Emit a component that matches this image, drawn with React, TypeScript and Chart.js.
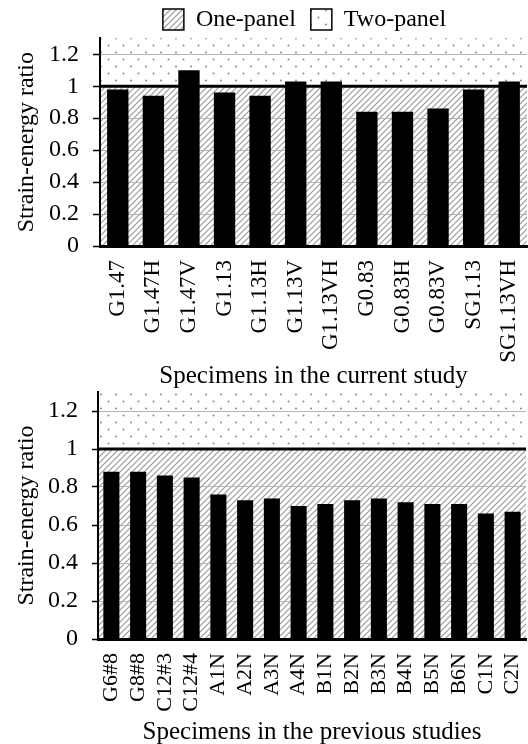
import { useEffect, useRef } from "react";
import { Chart, registerables } from "chart.js";

Chart.register(...registerables);

const currentSpecimens = ["G1.47", "G1.47H", "G1.47V", "G1.13", "G1.13H", "G1.13V", "G1.13VH", "G0.83", "G0.83H", "G0.83V", "SG1.13", "SG1.13VH"];
const currentRatios = [0.98, 0.94, 1.1, 0.96, 0.94, 1.03, 1.03, 0.84, 0.84, 0.86, 0.98, 1.03];
const previousSpecimens = ["G6#8", "G8#8", "C12#3", "C12#4", "A1N", "A2N", "A3N", "A4N", "B1N", "B2N", "B3N", "B4N", "B5N", "B6N", "C1N", "C2N"];
const previousRatios = [0.88, 0.88, 0.86, 0.85, 0.76, 0.73, 0.74, 0.7, 0.71, 0.73, 0.74, 0.72, 0.71, 0.71, 0.66, 0.67];
const yTickValues = [0, 0.2, 0.4, 0.6, 0.8, 1, 1.2];
const yMax = 1.3;
const panelBoundary = 1;
const legendNames = ["One-panel", "Two-panel"];
const yTitle = "Strain-energy ratio";
const currentTitle = "Specimens in the current study";
const previousTitle = "Specimens in the previous studies";

const FONT = "'Liberation Serif', 'Times New Roman', serif";

function makePatterns() {
  const ctx0 = document.createElement("canvas").getContext("2d") as CanvasRenderingContext2D;
  const h = document.createElement("canvas");
  h.width = 6;
  h.height = 6;
  const hc = h.getContext("2d") as CanvasRenderingContext2D;
  hc.fillStyle = "#fff";
  hc.fillRect(0, 0, 6, 6);
  hc.strokeStyle = "#9a9a9a";
  hc.lineWidth = 1.2;
  hc.beginPath();
  hc.moveTo(-1, 7);
  hc.lineTo(7, -1);
  hc.moveTo(-1, 1);
  hc.lineTo(1, -1);
  hc.moveTo(5, 7);
  hc.lineTo(7, 5);
  hc.stroke();

  const d = document.createElement("canvas");
  d.width = 15;
  d.height = 14;
  const dc = d.getContext("2d") as CanvasRenderingContext2D;
  dc.fillStyle = "#fff";
  dc.fillRect(0, 0, 15, 14);
  dc.fillStyle = "#8a8a8a";
  dc.beginPath();
  dc.arc(3.5, 3.5, 1, 0, Math.PI * 2);
  dc.arc(11, 10.5, 1, 0, Math.PI * 2);
  dc.fill();

  return {
    hatch: ctx0.createPattern(h, "repeat") as CanvasPattern,
    dots: ctx0.createPattern(d, "repeat") as CanvasPattern,
  };
}

type Cfg = {
  labels: string[];
  values: number[];
  xTitle: string;
  legend: boolean;
  pad: { top: number; right: number };
  yWidth: number;
  xHeight: number;
  xTitlePad: number;
  xTickSize: number;
  tickLen: number;
};

function buildChart(canvas: HTMLCanvasElement, cfg: Cfg, patterns: { hatch: CanvasPattern; dots: CanvasPattern }) {
  const zones = {
    id: "zones",
    afterLayout(chart: any) {
      if (chart.legend && cfg.legend) {
        chart.legend.left -= 9;
        chart.legend.right -= 9;
      }
    },
    beforeDraw(chart: any) {
      const { ctx, chartArea: a, scales } = chart;
      const yb = scales.y.getPixelForValue(panelBoundary);
      ctx.save();
      ctx.fillStyle = patterns.dots;
      ctx.fillRect(a.left, a.top, a.right - a.left, yb - a.top);
      ctx.fillStyle = patterns.hatch;
      ctx.fillRect(a.left, yb, a.right - a.left, a.bottom - yb);
      ctx.restore();
    },
    afterDatasetsDraw(chart: any) {
      const { ctx, chartArea: a, scales } = chart;
      const yb = scales.y.getPixelForValue(panelBoundary);
      ctx.save();
      ctx.strokeStyle = "#000";
      ctx.lineWidth = 3;
      ctx.beginPath();
      ctx.moveTo(a.left, yb);
      ctx.lineTo(a.right, yb);
      ctx.stroke();
      ctx.restore();
    },
  };

  return new Chart(canvas, {
    type: "bar",
    data: {
      labels: cfg.labels,
      datasets: [
        {
          data: cfg.values,
          backgroundColor: "#000",
          borderWidth: 0,
          barPercentage: 0.6,
          categoryPercentage: 1,
        },
      ],
    },
    plugins: [zones],
    options: {
      responsive: false,
      animation: false,
      devicePixelRatio: 1,
      layout: { padding: { top: cfg.pad.top, right: cfg.pad.right, left: 0, bottom: 0 } },
      plugins: {
        tooltip: { enabled: false },
        legend: {
          display: cfg.legend,
          position: "top",
          fullSize: false,
          maxHeight: 45.8,
          onClick: () => {},
          labels: {
            font: { family: FONT, size: 24 },
            color: "#000",
            boxWidth: 21,
            boxHeight: 21,
            padding: 15,
            generateLabels: () => [
              { text: legendNames[0], fillStyle: patterns.hatch, strokeStyle: "#000", lineWidth: 1.5, hidden: false, datasetIndex: 0 },
              { text: legendNames[1], fillStyle: patterns.dots, strokeStyle: "#000", lineWidth: 1.5, hidden: false, datasetIndex: 0 },
            ] as any,
          },
        },
      },
      scales: {
        x: {
          afterFit: (s: any) => {
            s.height = cfg.xHeight;
            s.paddingLeft = 0;
            s.paddingRight = 0;
          },
          grid: { display: false, drawTicks: false },
          border: { display: true, color: "#000", width: 3 },
          ticks: {
            autoSkip: false,
            minRotation: 90,
            maxRotation: 90,
            padding: 14,
            color: "#000",
            font: { family: FONT, size: cfg.xTickSize },
          },
          title: {
            display: true,
            text: cfg.xTitle,
            color: "#000",
            font: { family: FONT, size: 25 },
            padding: { top: 0, bottom: cfg.xTitlePad },
          },
        },
        y: {
          min: 0,
          max: yMax,
          afterBuildTicks: (s: any) => {
            s.ticks = yTickValues.map((v) => ({ value: v }));
          },
          afterFit: (s: any) => {
            s.width = cfg.yWidth;
            s.paddingTop = 0;
            s.paddingBottom = 0;
          },
          grid: { color: "#b4b4b4", lineWidth: 1, drawTicks: true, tickLength: cfg.tickLen, tickColor: "#000", tickWidth: 1.5 },
          border: { display: true, color: "#000", width: 2 },
          ticks: {
            padding: 14,
            color: "#000",
            font: { family: FONT, size: 24 },
            callback: (v: any) => String(Math.round(Number(v) * 10) / 10),
          },
          title: {
            display: true,
            text: yTitle,
            color: "#000",
            font: { family: FONT, size: 24 },
            padding: { top: 12, bottom: 0 },
          },
        },
      },
    },
  });
}

export default function App() {
  const topRef = useRef<HTMLCanvasElement>(null);
  const botRef = useRef<HTMLCanvasElement>(null);

  useEffect(() => {
    const patterns = makePatterns();
    const c1 = buildChart(
      topRef.current as HTMLCanvasElement,
      {
        labels: currentSpecimens,
        values: currentRatios,
        xTitle: currentTitle,
        legend: true,
        pad: { top: -7.5, right: 1 },
        yWidth: 100,
        xHeight: 154,
        xTitlePad: 9,
        xTickSize: 23,
        tickLen: 7,
      },
      patterns
    );
    const c2 = buildChart(
      botRef.current as HTMLCanvasElement,
      {
        labels: previousSpecimens,
        values: previousRatios,
        xTitle: previousTitle,
        legend: false,
        pad: { top: 22, right: 2 },
        yWidth: 98,
        xHeight: 109,
        xTitlePad: 1,
        xTickSize: 22,
        tickLen: 6,
      },
      patterns
    );
    return () => {
      c1.destroy();
      c2.destroy();
    };
  }, []);

  return (
    <div style={{ position: "absolute", left: 0, top: 0, width: 528, height: 744, overflow: "hidden", background: "#fff" }}>
      <canvas ref={topRef} width={528} height={400} style={{ position: "absolute", left: 0, top: 0 }} />
      <canvas ref={botRef} width={528} height={378} style={{ position: "absolute", left: 0, top: 370 }} />
    </div>
  );
}
